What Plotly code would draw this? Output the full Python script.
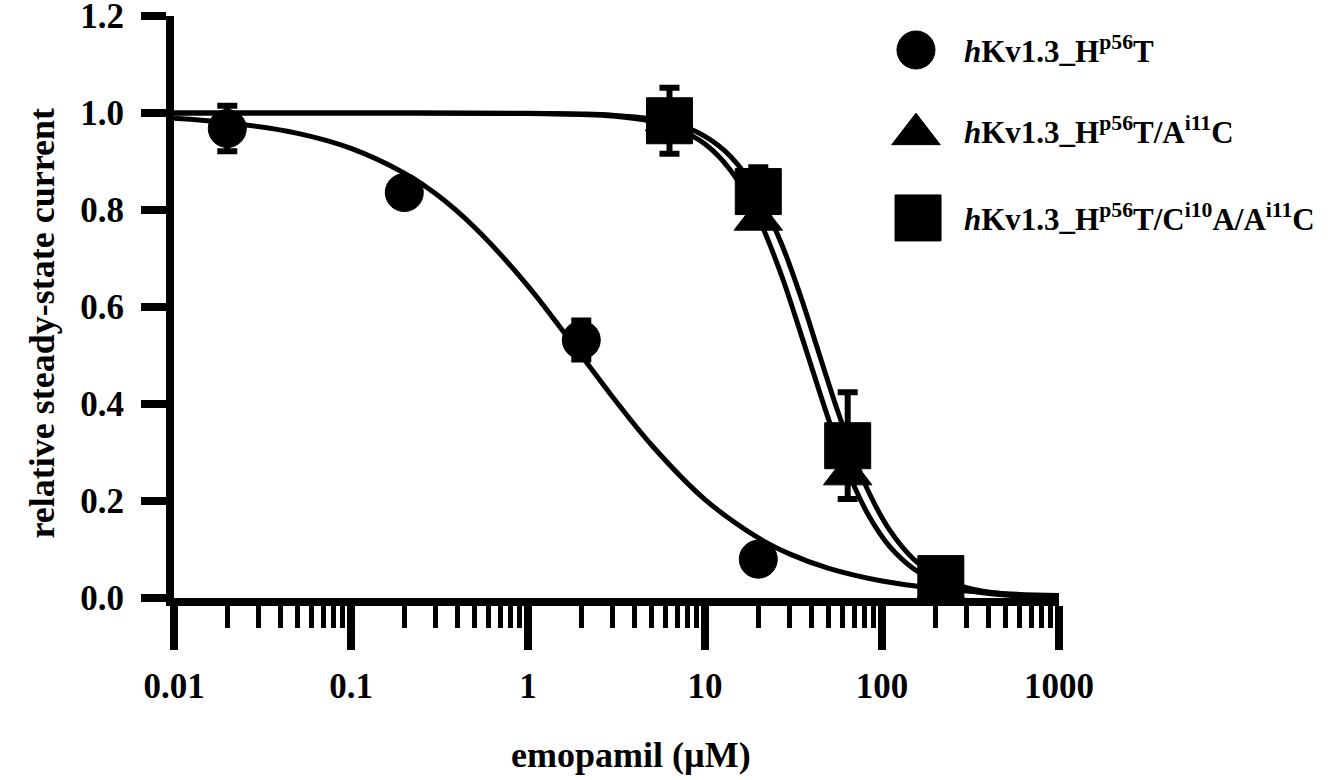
import plotly.graph_objects as go

# ---------------- data ----------------
conc_circle = [0.02, 0.2, 2, 20]
resp_circle = [0.968, 0.836, 0.532, 0.080]
err_circle = [0.047, 0.0, 0.040, 0.0]

conc_triangle = [6.3, 20, 64, 215]
resp_triangle = [0.985, 0.780, 0.255, 0.020]
err_triangle = [0.0, 0.0, 0.0, 0.0]

conc_square = [6.3, 20, 64, 215]
resp_square = [0.984, 0.838, 0.314, 0.040]
err_square = [0.068, 0.050, 0.110, 0.0]

# fitted curves
fit_circle_x = [0.01, 0.02, 0.05, 0.1, 0.2, 0.3, 0.5, 1, 2, 3, 5, 10, 20, 30, 50, 100, 200, 500, 1000]
fit_circle_y = [0.989, 0.980, 0.958, 0.927, 0.876, 0.834, 0.764, 0.643, 0.500, 0.415, 0.315, 0.203,
                0.124, 0.091, 0.061, 0.035, 0.020, 0.009, 0.005]

fit_triangle_x = [0.01, 0.1, 1, 2, 3, 5, 7, 10, 14, 20, 27, 35, 45, 56, 70, 85, 110, 150, 200, 300, 500, 1000]
fit_triangle_y = [1.0, 1.0, 0.999, 0.997, 0.994, 0.983, 0.967, 0.936, 0.881, 0.784, 0.666, 0.542, 0.418,
                  0.316, 0.229, 0.167, 0.107, 0.061, 0.035, 0.016, 0.006, 0.0015]

fit_square_x = [0.01, 0.1, 1, 2, 3, 5, 7, 10, 14, 20, 27, 35, 45, 56, 70, 85, 110, 150, 200, 300, 500, 1000]
fit_square_y = [1.0, 1.0, 0.9995, 0.998, 0.9955, 0.9875, 0.976, 0.952, 0.910, 0.832, 0.731, 0.618, 0.494,
                0.387, 0.288, 0.215, 0.141, 0.081, 0.047, 0.0215, 0.008, 0.002]

series_names = [
    "<i>h</i>Kv1.3_H<sup>p56</sup>T",
    "<i>h</i>Kv1.3_H<sup>p56</sup>T/A<sup>i11</sup>C",
    "<i>h</i>Kv1.3_H<sup>p56</sup>T/C<sup>i10</sup>A/A<sup>i11</sup>C",
]
x_tick_vals = [0.01, 0.1, 1, 10, 100, 1000]
x_tick_text = ["0.01", "0.1", "1", "10", "100", "1000"]
y_tick_vals = [0.0, 0.2, 0.4, 0.6, 0.8, 1.0, 1.2]
y_tick_text = ["0.0", "0.2", "0.4", "0.6", "0.8", "1.0", "1.2"]
x_title = "emopamil (µM)"
y_title = "relative steady-state current"

# ---------------- styling ----------------
FONT = "Liberation Serif"
BLACK = "black"
symbols = ["circle", "triangle-up", "square"]
sizes = [38, 42, 46]

fig = go.Figure()

# fit curves
for fx, fy in [(fit_triangle_x, fit_triangle_y), (fit_square_x, fit_square_y), (fit_circle_x, fit_circle_y)]:
    fig.add_trace(go.Scatter(x=fx, y=fy, mode="lines", line=dict(color=BLACK, width=5, shape="spline"),
                             showlegend=False, hoverinfo="skip", cliponaxis=False))

# data points
for (cx, cy, ce), sym, sz in zip(
        [(conc_triangle, resp_triangle, err_triangle),
         (conc_circle, resp_circle, err_circle),
         (conc_square, resp_square, err_square)],
        ["triangle-up", "circle", "square"], [42, 38, 46]):
    fig.add_trace(go.Scatter(
        x=cx, y=cy, mode="markers",
        marker=dict(symbol=sym, size=sz, color=BLACK, line=dict(color=BLACK, width=1)),
        error_y=dict(type="data", array=ce, visible=True, color=BLACK, thickness=6, width=10),
        showlegend=False, cliponaxis=False))

# manual legend (markers on an overlay axis pair in [0,1] layout units)
leg_x = [0.8384, 0.8384, 0.8407]
leg_y = [0.9416, 0.797, 0.653]
leg_text_y = [0.9416, 0.804, 0.653]
for i in range(3):
    fig.add_trace(go.Scatter(
        x=[leg_x[i]], y=[leg_y[i]], xaxis="x2", yaxis="y2", mode="markers",
        marker=dict(symbol=symbols[i], size=sizes[i], color=BLACK, line=dict(color=BLACK, width=1)),
        showlegend=False, hoverinfo="skip", cliponaxis=False))
    fig.add_annotation(x=0.890, y=leg_text_y[i], xref="paper", yref="paper",
                       text="<b>" + series_names[i] + "</b>", showarrow=False,
                       xanchor="left", yanchor="middle",
                       font=dict(family=FONT, size=31, color=BLACK))

# axis titles
fig.add_annotation(x=-0.1497, y=0.4725, xref="paper", yref="paper", text="<b>" + y_title + "</b>",
                   textangle=-90, showarrow=False, xanchor="center", yanchor="middle",
                   font=dict(family=FONT, size=36, color=BLACK))
fig.add_annotation(x=0.5164, y=-0.2698, xref="paper", yref="paper", text="<b>" + x_title + "</b>",
                   showarrow=False, xanchor="center", yanchor="middle",
                   font=dict(family=FONT, size=36, color=BLACK))

fig.update_layout(
    width=1331, height=780,
    margin=dict(l=174, r=272, t=16, b=182, autoexpand=False),
    paper_bgcolor="white", plot_bgcolor="white",
    showlegend=False,
    xaxis=dict(
        type="log", range=[-2, 3], automargin=False,
        tickmode="array", tickvals=x_tick_vals, ticktext=x_tick_text,
        ticks="outside", ticklen=44, tickwidth=8, tickcolor=BLACK,
        showline=True, linewidth=8, linecolor=BLACK,
        showgrid=False, zeroline=False,
        tickfont=dict(family=FONT, size=35, color=BLACK, weight="bold"),
        ticklabelstandoff=6,
        minor=dict(ticks="outside", ticklen=22, tickwidth=5, tickcolor=BLACK,
                   dtick="D1", showgrid=False),
    ),
    yaxis=dict(
        range=[0, 1.2], automargin=False,
        tickmode="array", tickvals=y_tick_vals, ticktext=y_tick_text,
        ticks="outside", ticklen=25, tickwidth=8, tickcolor=BLACK,
        showline=True, linewidth=8, linecolor=BLACK,
        showgrid=False, zeroline=False,
        tickfont=dict(family=FONT, size=35, color=BLACK, weight="bold"),
        ticklabelstandoff=10, ticklabeloverflow="allow",
    ),
    xaxis2=dict(overlaying="x", range=[0, 1], visible=False),
    yaxis2=dict(overlaying="y", range=[0, 1], visible=False),
)

fig.write_html("out.html", config={"displayModeBar": False},
               post_script="document.body.style.margin='0';")
